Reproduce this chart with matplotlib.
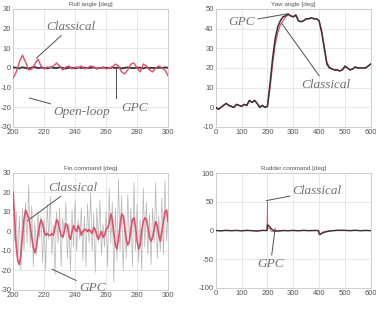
import matplotlib
matplotlib.use("Agg")
import matplotlib.pyplot as plt
import numpy as np

plt.rcParams["axes.unicode_minus"] = False
plt.rcParams["font.family"] = ["Liberation Sans", "DejaVu Sans"]

# ---------------- data ----------------
roll_t = list(range(200, 301, 2))
roll_classical = [-5, -2, 3, 6.5, 3, -1, -0.5, 2, 4.5, 1, -0.5, 0.5, 0, 1, 2.5, 1, -1, 0.5, 1, -0.5,
                  0.5, 0, 1, -0.5, 0, 1, 0.5, -0.5, 0, 0.5, -0.5, 0, 0.5, 2, 1, -2, -3, -1, 2, 2.5,
                  0, -2, 2, 1, -1, -2, 0, 1, 0, -1, -4]
roll_gpc = [0.3, 0.1, -0.2, 0.4, 0.0, -0.3, 0.2, 0.5, -0.1, 0.2, 0.0, -0.2, 0.3, 0.1, -0.1, 0.4, 0.0,
            -0.3, 0.2, 0.1, -0.2, 0.3, 0.0, 0.2, -0.1, 0.1, 0.3, -0.2, 0.0, 0.2, 0.1, -0.1, 0.3, 0.0,
            0.2, -0.2, 0.1, 0.3, 0.0, -0.1, 0.2, 0.1, -0.2, 0.3, 0.0, 0.1, -0.1, 0.2, 0.0, 0.3, 0.1]

yaw_t = list(range(0, 601, 10))
yaw_gpc = [0, -1, 0, 1, 2, 1, 0.5, 0, 1.5, 1, 0.5, 1.5, 1, 3.5, 2.5, 3.5, 2, 0, 1, 0, 0.5,
           12, 25, 35, 41, 44, 46, 46.5, 47.5, 46.5, 46, 47, 44, 43.5, 44, 45, 45, 45.5, 45, 45,
           44, 38, 30, 22, 20, 19.5, 19, 19, 18.5, 19, 21, 20, 19, 19.5, 20.5, 20, 20, 20, 20, 21, 22]
yaw_classical = [0, -1, 0, 1, 2, 1, 0.5, 0, 1.5, 1, 0.5, 1.5, 1, 3.5, 2.5, 3.5, 2, 0, 1, 0, 0.5,
                 10, 22, 32, 38, 42, 44, 46, 47, 46.5, 46, 46.5, 44, 43.5, 44, 45, 45, 45.5, 45, 45,
                 44, 39, 31, 23, 20.5, 19.5, 19, 19, 18.5, 19, 20.5, 20, 19, 19.5, 20.5, 20, 20, 20, 20, 21, 22]

fin_t = list(range(200, 301))
fin_classical = [20, 5, -8, -15, -17, -12, -2, 6, 11, 9, 7, 3, -3, -8, -11, -8, -2, 3, 6, 4,
                 0, -2, -1, -2, -2, -1, -2, 2, 6, 5, 1, -2, -3, 0, 4, 3, -2, -4, 0, 3,
                 1, 0, 3, 1, -2, 0, 1, 1, 0, 1, 0, -1, 2, 1, -2, -4, -2, 0, -3, -2,
                 1, 2, 4, 9, 6, -1, -7, -9, -4, 3, 9, 8, 2, -4, -7, -5, 1, 6, 7, 2,
                 -5, -9, -7, 0, 5, 7, 6, 2, -3, -5, -3, 1, 5, 3, -2, -5, 0, 5, 10, 11, 5]
fin_gpc = [18, -5, 10, -15, 8, -20, 12, -10, 15, -6, 24, -8, 13, -18, 5, -12, 10, -3, 8, -16,
           6, -20, 14, -4, 18, -12, 3, -22, 10, -6, 12, -18, 7, -2, 15, -14, 4, -20, 11, -8,
           16, -10, 6, -4, 12, -15, 8, -18, 14, -6, 20, -10, 9, -21, 12, -5, 16, -12, 4, -8,
           10, -18, 22, -6, 15, -26, 12, -15, 27, -10, 18, -20, 8, -14, 19, -6, 12, -18, 25, -10,
           14, -16, 6, -20, 22, -8, 15, -12, 9, -17, 12, -6, 25, -14, 8, -10, 17, -12, 26, -5, 10]

rud_t = [0, 20, 40, 60, 80, 100, 120, 140, 160, 180, 198, 200, 201, 205, 210, 215, 220, 225, 230,
         235, 240, 260, 280, 300, 320, 340, 360, 380, 398, 400, 405, 410, 420, 430, 440, 450, 470,
         500, 520, 540, 560, 580, 600]
rud_gpc = [0, -0.5, 0.3, -0.3, 0.2, -0.5, 0.3, -0.2, -1, 0.3, 0, 9, 10, 8, 6, 3, 1, 0, -1,
           -0.5, -1, 0, -0.3, 0.2, -0.4, 0.3, -0.2, 0.1, 0, -5, -7, -5, -3, -2, -1, -0.5, 0.5,
           0.3, -0.2, 0.5, -0.3, 0.2, -0.2]
rud_classical = [0, -0.3, 0.2, -0.3, 0.3, -0.4, 0.2, -0.3, -0.5, 0.2, 0, 50, 6, 4, 2, -1, -2, -1, -1,
                 -0.5, -0.5, 0, -0.2, 0.2, -0.3, 0.2, -0.2, 0.1, 0, -8, -6, -4, -2, -1, -0.5, 0, 0.3,
                 0.2, -0.2, 0.3, -0.2, 0.1, -0.1]

# ---------------- style ----------------
W, H = 376, 309
fig = plt.figure(figsize=(W / 100, H / 100), dpi=100)
fig.patch.set_facecolor("white")

RED = "#e0506a"
DARK = "#3b3035"
LGRAY = "#b5b5b5"
ann_font = dict(family=["Liberation Serif", "DejaVu Serif"], style="italic", fontsize=9.5, color="#707070")
LINE = dict(arrowstyle="-", color="#505050", lw=0.7, shrinkA=0, shrinkB=0)


def make_ax(rect, title, xlim, ylim, xticks, yticks):
    ax = fig.add_axes(rect)
    ax.set_xlim(*xlim)
    ax.set_ylim(*ylim)
    ax.set_xticks(xticks)
    ax.set_yticks(yticks)
    ax.grid(True, color="#e4e4e4", linewidth=0.6)
    ax.set_axisbelow(True)
    for s in ax.spines.values():
        s.set_color("#c8c8c8")
        s.set_linewidth(0.6)
    ax.tick_params(length=0, labelsize=5.5, labelcolor="#555555", pad=1.5)
    ax.set_title(title, fontsize=4.5, color="#555555", pad=2)
    return ax


# Roll angle
ax1 = make_ax([0.035, 0.589, 0.412, 0.382], "Roll angle [deg]", (200, 300), (-30, 30),
              [200, 220, 240, 260, 280, 300], [-30, -20, -10, 0, 10, 20, 30])
ax1.plot(roll_t, roll_gpc, color=DARK, lw=1.3, zorder=3)
ax1.plot(roll_t, roll_classical, color=RED, lw=1.0, zorder=4)
ax1.annotate("Classical", xy=(215, 5), xytext=(221.5, 21), ha="left", va="center",
             arrowprops=LINE, **ann_font)
ax1.plot([266.5, 266.5], [0, -15.5], color="#505050", lw=0.7, zorder=5)
ax1.text(270, -20.5, "GPC", ha="left", va="center", **ann_font)
ax1.annotate("Open-loop", xy=(210.5, -15.3), xytext=(226, -22.5), ha="left", va="center",
             arrowprops=LINE, **ann_font)

# Yaw angle
ax2 = make_ax([0.574, 0.589, 0.412, 0.382], "Yaw angle [deg]", (0, 600), (-10, 50),
              [0, 100, 200, 300, 400, 500, 600], [-10, 0, 10, 20, 30, 40, 50])
ax2.plot(yaw_t, yaw_classical, color=RED, lw=0.9, zorder=3)
ax2.plot(yaw_t, yaw_gpc, color=DARK, lw=1.1, zorder=4)
ax2.annotate("GPC", xy=(276, 47.5), xytext=(152, 43.5), ha="right", va="center",
             arrowprops=LINE, **ann_font)
ax2.annotate("Classical", xy=(256, 42.5), xytext=(330, 11.5), ha="left", va="center",
             arrowprops=LINE, **ann_font)

# Fin command
ax3 = make_ax([0.035, 0.0615, 0.412, 0.379], "Fin command [deg]", (200, 300), (-30, 30),
              [200, 220, 240, 260, 280, 300], [-30, -20, -10, 0, 10, 20, 30])
ax3.plot(fin_t, fin_gpc, color=LGRAY, lw=0.5, zorder=3)
ax3.plot(fin_t, fin_classical, color=RED, lw=1.2, zorder=4)
ax3.annotate("Classical", xy=(209.3, 5.5), xytext=(222.5, 22.5), ha="left", va="center",
             arrowprops=LINE, **ann_font)
ax3.annotate("GPC", xy=(225, -19.3), xytext=(242.5, -29), ha="left", va="center",
             arrowprops=LINE, **ann_font)

# Rudder command
ax4 = make_ax([0.574, 0.068, 0.412, 0.372], "Rudder command [deg]", (0, 600), (-100, 100),
              [0, 100, 200, 300, 400, 500, 600], [-100, -50, 0, 50, 100])
ax4.plot(rud_t, rud_classical, color=RED, lw=0.6, zorder=3)
ax4.plot(rud_t, rud_gpc, color=DARK, lw=1.0, zorder=4)
ax4.annotate("Classical", xy=(195, 52), xytext=(298, 69), ha="left", va="center",
             arrowprops=LINE, **ann_font)
ax4.annotate("GPC", xy=(230, 4), xytext=(212, -58), ha="center", va="center",
             arrowprops=LINE, **ann_font)

fig.savefig("out.png", dpi=100, facecolor="white")
